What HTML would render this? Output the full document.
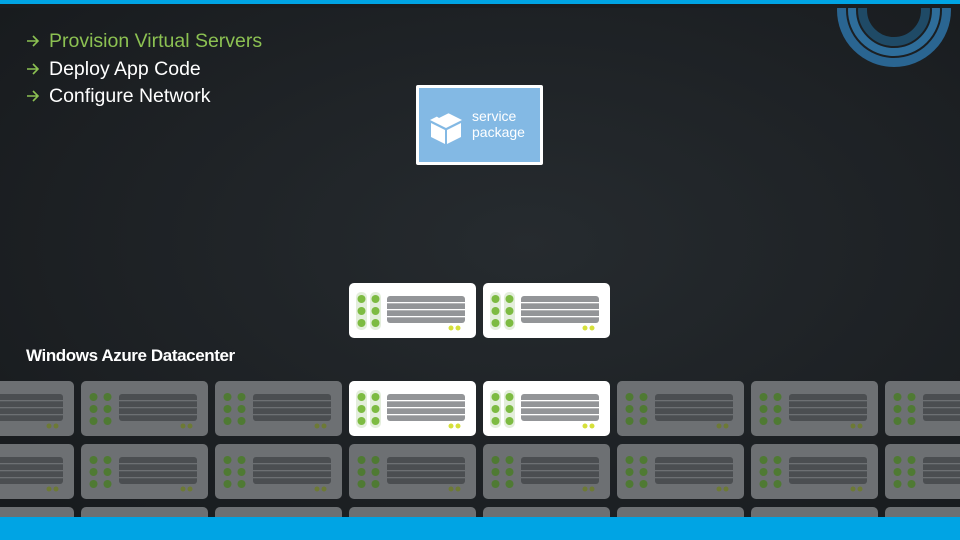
<!DOCTYPE html>
<html><head><meta charset="utf-8"><style>
html,body{margin:0;padding:0;width:960px;height:540px;overflow:hidden;background:#1b1f22}
svg{display:block}
</style></head><body>
<svg width="960" height="540" viewBox="0 0 960 540" xmlns="http://www.w3.org/2000/svg">
<defs>
<radialGradient id="bg" cx="0.55" cy="0.45" r="0.7">
<stop offset="0" stop-color="#262b2f"/><stop offset="1" stop-color="#181b1e"/>
</radialGradient>
<g id="ar"><path d="M0,0 H11 M6,-5 L11,0 L6,5" fill="none" stroke="#8cc152" stroke-width="1.6"/></g>
<g id="tw">
<rect x="0" y="0" width="127" height="55" rx="5" fill="#ffffff"/>
<rect x="7" y="9" width="11" height="38" rx="5" fill="#e3eedb"/>
<rect x="21" y="9" width="11" height="38" rx="5" fill="#e3eedb"/>
<circle cx="12.5" cy="16" r="4" fill="#7dbb42"/><circle cx="26.5" cy="16" r="4" fill="#7dbb42"/>
<circle cx="12.5" cy="28" r="4" fill="#7dbb42"/><circle cx="26.5" cy="28" r="4" fill="#7dbb42"/>
<circle cx="12.5" cy="40" r="4" fill="#7dbb42"/><circle cx="26.5" cy="40" r="4" fill="#7dbb42"/>
<rect x="38" y="13" width="78" height="27" rx="3" fill="#939598"/>
<rect x="38" y="19" width="78" height="1.3" fill="#fff"/>
<rect x="38" y="26" width="78" height="1.3" fill="#fff"/>
<rect x="38" y="33" width="78" height="1.3" fill="#fff"/>
<circle cx="102" cy="45" r="2.5" fill="#d6e03a"/><circle cx="109" cy="45" r="2.5" fill="#d6e03a"/>
</g>
<g id="tg">
<rect x="0" y="0" width="127" height="55" rx="5" fill="#6d7073"/>
<circle cx="12.5" cy="16" r="4" fill="#4f7a33"/><circle cx="26.5" cy="16" r="4" fill="#4f7a33"/>
<circle cx="12.5" cy="28" r="4" fill="#4f7a33"/><circle cx="26.5" cy="28" r="4" fill="#4f7a33"/>
<circle cx="12.5" cy="40" r="4" fill="#4f7a33"/><circle cx="26.5" cy="40" r="4" fill="#4f7a33"/>
<rect x="38" y="13" width="78" height="27" rx="3" fill="#4b4e51"/>
<rect x="38" y="19" width="78" height="1.3" fill="#6d7073"/>
<rect x="38" y="26" width="78" height="1.3" fill="#6d7073"/>
<rect x="38" y="33" width="78" height="1.3" fill="#6d7073"/>
<circle cx="102" cy="45" r="2.5" fill="#6d7a35"/><circle cx="109" cy="45" r="2.5" fill="#6d7a35"/>
</g>
</defs>
<rect width="960" height="540" fill="url(#bg)"/>
<!-- ring logo -->
<circle cx="894" cy="10" r="52.5" fill="none" stroke="#2a6591" stroke-width="9"/>
<circle cx="894" cy="10" r="42" fill="none" stroke="#2e6d9a" stroke-width="8"/>
<circle cx="894" cy="10" r="31.5" fill="none" stroke="#1f4a66" stroke-width="9"/>
<rect width="960" height="8" fill="#1a1d20"/>
<rect width="960" height="4" fill="#00a4e4"/>
<!-- text -->
<use href="#ar" x="27" y="41"/><use href="#ar" x="27" y="69"/><use href="#ar" x="27" y="96"/>
<g font-family="'Liberation Sans',sans-serif" font-size="19.5">
<text x="49" y="47" fill="#8cc152">Provision Virtual Servers</text>
<text x="49" y="75" fill="#ffffff">Deploy App Code</text>
<text x="49" y="102" fill="#ffffff">Configure Network</text>
<text x="26" y="361" fill="#ffffff" font-weight="bold" font-size="17" letter-spacing="-0.4">Windows Azure Datacenter</text>
</g>
<!-- service package -->
<rect x="416" y="85" width="127" height="80" rx="2" fill="#ffffff"/>
<rect x="419" y="88" width="121" height="74" fill="#83b9e4"/>
<g fill="#ffffff">
<polygon points="430,120 446,112 462,120 446,128"/>
<polygon points="431,123 445,130 445,144 431,137"/>
<polygon points="447,130 461,123 461,137 447,144"/>
</g>
<polygon points="436,116 450,109 453,111 439,118" fill="#83b9e4"/>
<text x="472" y="121" fill="#ffffff" font-family="'Liberation Sans',sans-serif" font-size="14">service</text>
<text x="472" y="137" fill="#ffffff" font-family="'Liberation Sans',sans-serif" font-size="14">package</text>
<!-- top row -->
<use href="#tw" x="349" y="283"/><use href="#tw" x="483" y="283"/>
<!-- grid -->
<use href="#tg" x="-53" y="381"/><use href="#tg" x="81" y="381"/><use href="#tg" x="215" y="381"/>
<use href="#tw" x="349" y="381"/><use href="#tw" x="483" y="381"/>
<use href="#tg" x="617" y="381"/><use href="#tg" x="751" y="381"/><use href="#tg" x="885" y="381"/>
<use href="#tg" x="-53" y="444"/><use href="#tg" x="81" y="444"/><use href="#tg" x="215" y="444"/>
<use href="#tg" x="349" y="444"/><use href="#tg" x="483" y="444"/>
<use href="#tg" x="617" y="444"/><use href="#tg" x="751" y="444"/><use href="#tg" x="885" y="444"/>
<use href="#tg" x="-53" y="507"/><use href="#tg" x="81" y="507"/><use href="#tg" x="215" y="507"/>
<use href="#tg" x="349" y="507"/><use href="#tg" x="483" y="507"/>
<use href="#tg" x="617" y="507"/><use href="#tg" x="751" y="507"/><use href="#tg" x="885" y="507"/>
<rect x="0" y="517" width="960" height="23" fill="#00a4e4"/>
</svg>
</body></html>
